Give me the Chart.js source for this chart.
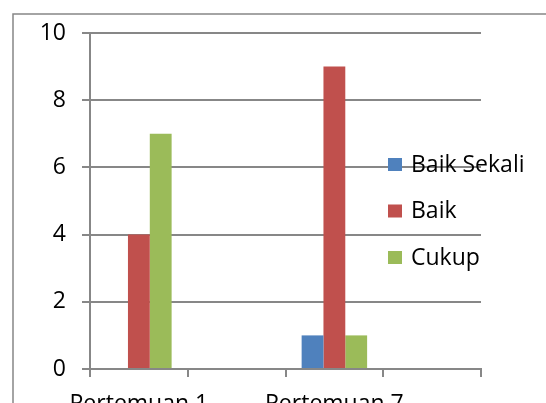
<!DOCTYPE html>
<html>
<head>
<meta charset="utf-8">
<script src="https://cdn.jsdelivr.net/npm/chart.js@4/dist/chart.umd.min.js"></script>
<style>
  html, body { margin: 0; padding: 0; background: #fff; overflow: hidden; }
  #wrap { position: relative; width: 546px; height: 403px; }
</style>
</head>
<body>
<div id="wrap"><canvas id="chart" width="546" height="403"></canvas></div>
<script>
// data
const categories = ['Pertemuan 1', '', 'Pertemuan 7', ''];
const baikSekali = [0, null, 1, null];
const baik = [4, null, 9, null];
const cukup = [7, null, 1, null];
const yTicks = [0, 2, 4, 6, 8, 10];

const gridGray = '#878787';
const font = { family: "'Open Sans', sans-serif", size: 23 };

// outer frame, cut by the window on the right and bottom
const framePlugin = {
  id: 'frame',
  beforeDraw(chart) {
    const ctx = chart.ctx;
    ctx.save();
    ctx.strokeStyle = gridGray;
    ctx.lineWidth = 1.5;
    ctx.strokeRect(13, 14, 600, 500);
    ctx.restore();
  }
};

// legend drawn over the plot like the original
const legendPlugin = {
  id: 'overLegend',
  afterDraw(chart) {
    const ctx = chart.ctx;
    const area = chart.chartArea;
    ctx.save();
    ctx.font = font.size + 'px ' + font.family;
    ctx.textBaseline = 'middle';
    chart.data.datasets.forEach((ds, i) => {
      const y = area.top + 132 + i * 46.5;
      ctx.fillStyle = ds.backgroundColor;
      ctx.fillRect(area.right - 93, y - 7, 14, 13);
      ctx.fillStyle = '#000';
      ctx.fillText(ds.label, area.right - 70, y);
    });
    ctx.restore();
  }
};

new Chart(document.getElementById('chart'), {
  type: 'bar',
  data: {
    labels: categories,
    datasets: [
      { label: 'Baik Sekali', data: baikSekali, backgroundColor: '#4F81BD' },
      { label: 'Baik', data: baik, backgroundColor: '#C0504D' },
      { label: 'Cukup', data: cukup, backgroundColor: '#9BBB59' }
    ]
  },
  options: {
    responsive: false,
    animation: false,
    layout: { padding: { top: 33, right: 65, left: 0, bottom: 0 } },
    datasets: { bar: { barPercentage: 1, categoryPercentage: 0.67, borderWidth: 0 } },
    plugins: { legend: { display: false }, tooltip: { enabled: false } },
    scales: {
      x: {
        offset: true,
        grid: { drawOnChartArea: false, drawTicks: true, tickLength: 8, color: gridGray, lineWidth: 2, offset: true },
        border: { color: gridGray, width: 2 },
        ticks: { color: '#000', font: font, padding: 14, autoSkip: false, maxRotation: 0 },
        afterFit(s) { s.height = 34; }
      },
      y: {
        min: 0,
        max: 10,
        afterBuildTicks(s) { s.ticks = yTicks.map(v => ({ value: v })); },
        grid: { color: gridGray, lineWidth: 2, tickLength: 8 },
        border: { color: gridGray, width: 2 },
        ticks: { color: '#000', font: font, padding: 16 },
        afterFit(s) { s.width = 90; }
      }
    }
  },
  plugins: [framePlugin, legendPlugin]
});
</script>
</body>
</html>
